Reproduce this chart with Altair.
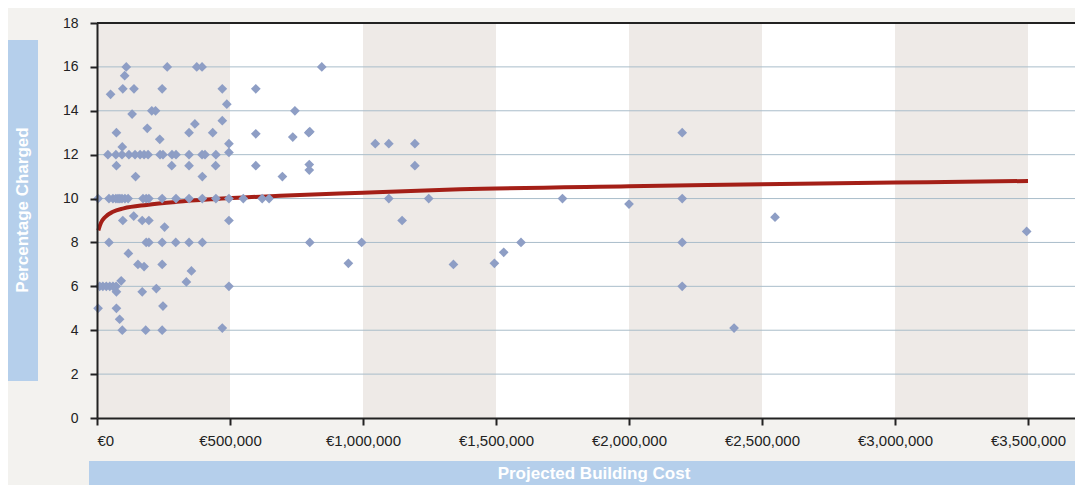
import altair as alt
import pandas as pd

# ---- data ----
cost_eur = [
    110000, 264000, 375000, 395000, 845000,
    104000, 51000, 97000, 139000, 245000, 471000, 597000, 488000, 132000, 206000, 220000, 744000,
    73000, 346000, 435000, 597000, 796000, 800000, 2200000, 189000, 236000, 368000, 471000, 736000,
    496000, 1046000, 1097000, 1195000, 95000,
    41000, 71000, 94000, 120000, 143000, 162000, 177000, 192000, 237000, 248000, 282000, 297000,
    346000, 395000, 406000, 447000, 496000,
    73000, 281000, 346000, 446000, 597000, 1195000, 798000, 798000,
    145000, 396000, 697000,
    4000, 45000, 60000, 71000, 79000, 86000, 94000, 105000, 117000, 173000, 185000, 195000, 245000,
    297000, 346000, 396000, 447000, 496000, 550000, 621000, 647000, 1097000, 1247000, 1750000, 2200000,
    2000000,
    97000, 138000, 170000, 195000, 496000, 1147000, 254000,
    45000, 185000, 195000, 245000, 296000, 346000, 396000, 800000, 995000, 1594000, 2200000,
    118000, 154000, 177000, 245000, 945000, 1340000, 1494000, 1529000, 355000, 336000,
    10000, 22000, 35000, 48000, 60000, 72000, 496000, 2200000, 91000,
    73000, 170000, 223000, 4000, 73000, 248000, 85000,
    95000, 183000, 245000, 471000, 2395000, 2549000, 3495000,
]
pct_charged = [
    16, 16, 16, 16, 16,
    15.6, 14.75, 15, 15, 15, 15, 15, 14.3, 13.85, 14, 14, 14,
    13, 13, 13, 12.95, 13, 13.05, 13, 13.2, 12.7, 13.4, 13.55, 12.8,
    12.5, 12.5, 12.5, 12.5, 12.35,
    12, 12, 12, 12, 12, 12, 12, 12, 12, 12, 12, 12,
    12, 12, 12, 12, 12.1,
    11.5, 11.5, 11.5, 11.5, 11.5, 11.5, 11.55, 11.3,
    11, 11, 11,
    10, 10, 10, 10, 10, 10, 10, 10, 10, 10, 10, 10, 10,
    10, 10, 10, 10, 10, 10, 10, 10, 10, 10, 10, 10,
    9.75,
    9, 9.2, 9, 9, 9, 9, 8.7,
    8, 8, 8, 8, 8, 8, 8, 8, 8, 8, 8,
    7.5, 7, 6.9, 7, 7.05, 7, 7.05, 7.55, 6.7, 6.2,
    6, 6, 6, 6, 6, 6, 6, 6, 6.25,
    5.75, 5.75, 5.9, 5, 5, 5.1, 4.5,
    4, 4, 4, 4.1, 4.1, 9.15, 8.5,
]

trend_cost = [5000, 15000, 30000, 60000, 100000, 187000, 300000, 436000, 688000,
              1000000, 1365000, 2000000, 2500000, 3000000, 3500000]
trend_pct = [8.55, 8.9, 9.15, 9.4, 9.55, 9.71, 9.85, 9.97, 10.13,
             10.27, 10.42, 10.56, 10.65, 10.73, 10.8]

band_start = [0, 1000000, 2000000, 3000000]
band_end = [500000, 1500000, 2500000, 3500000]

x_ticks = [0, 500000, 1000000, 1500000, 2000000, 2500000, 3000000, 3500000]
y_ticks = [0, 2, 4, 6, 8, 10, 12, 14, 16, 18]

# ---- layout ----
W, H = 978, 395
XMAX = 3676700
FONT = "Liberation Sans"

xscale = alt.Scale(domain=[0, XMAX], nice=False, zero=False)
yscale = alt.Scale(domain=[0, 18], nice=False)

xaxis = alt.Axis(
    values=x_ticks,
    labelExpr="'€' + format(datum.value, ',')",
    title=None,
    grid=False,
    domainColor="#222222",
    domainWidth=2,
    tickColor="#222222",
    tickWidth=2,
    tickSize=7,
    labelFontSize=15,
    labelColor="#222222",
    labelFont=FONT,
    labelPadding=8,
    zindex=1,
)
yaxis = alt.Axis(
    values=y_ticks,
    title=None,
    grid=False,
    domainColor="#222222",
    domainWidth=2,
    tickColor="#222222",
    tickWidth=2,
    tickSize=7,
    labelFontSize=14,
    labelColor="#222222",
    labelFont=FONT,
    labelPadding=12,
    zindex=1,
)

points_df = pd.DataFrame({"cost": cost_eur, "pct": pct_charged})
trend_df = pd.DataFrame({"cost": trend_cost, "pct": trend_pct})
band_df = pd.DataFrame({"start": band_start, "end": band_end})
grid_df = pd.DataFrame({"y": y_ticks[1:-1]})
top_df = pd.DataFrame({"y": [18]})

bands = alt.Chart(band_df).mark_rect(color="#EEEAE7").encode(
    x=alt.X("start:Q", scale=xscale, axis=xaxis),
    x2="end:Q",
    y=alt.value(0),
    y2=alt.value(H),
)

grid = alt.Chart(grid_df).mark_rule(color="#A9BDCA", strokeWidth=1).encode(
    y=alt.Y("y:Q", scale=yscale, axis=yaxis)
)

top_rule = alt.Chart(top_df).mark_rule(color="#222222", strokeWidth=2).encode(
    y=alt.Y("y:Q", scale=yscale, axis=yaxis)
)

trend = alt.Chart(trend_df).mark_line(
    color="#A41F17", strokeWidth=4, interpolate="monotone"
).encode(
    x=alt.X("cost:Q", scale=xscale, axis=xaxis),
    y=alt.Y("pct:Q", scale=yscale, axis=yaxis),
)

points = alt.Chart(points_df).mark_point(
    shape="diamond", filled=True, size=95, color="#8E9EC5", opacity=1
).encode(
    x=alt.X("cost:Q", scale=xscale, axis=xaxis),
    y=alt.Y("pct:Q", scale=yscale, axis=yaxis),
)

one = pd.DataFrame({"t": ["Percentage Charged"]})
ytitle_rect = alt.Chart(one).mark_rect(color="#B5CFEB").encode(
    x=alt.value(-89), x2=alt.value(-59), y=alt.value(17), y2=alt.value(358)
)
ytitle_text = alt.Chart(one).mark_text(
    color="white", fontWeight="bold", fontSize=17, font=FONT, angle=270,
    align="center", baseline="middle"
).encode(text="t:N", x=alt.value(-74), y=alt.value(187))

two = pd.DataFrame({"t": ["Projected Building Cost"]})
xtitle_rect = alt.Chart(two).mark_rect(color="#B5CFEB").encode(
    x=alt.value(-8), x2=alt.value(W), y=alt.value(438), y2=alt.value(462)
)
xtitle_text = alt.Chart(two).mark_text(
    color="white", fontWeight="bold", fontSize=17, font=FONT,
    align="center", baseline="middle"
).encode(text="t:N", x=alt.value(497), y=alt.value(451))

chart = alt.layer(
    bands, grid, top_rule, trend, points,
    ytitle_rect, ytitle_text, xtitle_rect, xtitle_text,
).properties(
    width=W,
    height=H,
    padding={"left": 89, "top": 15, "right": 0, "bottom": 67},
    autosize=alt.AutoSizeParams(type="none"),
    background="#F3F2EF",
).configure_view(stroke=None, fill="white")

chart.save("out.html", embed_options={"renderer": "svg", "actions": False})
